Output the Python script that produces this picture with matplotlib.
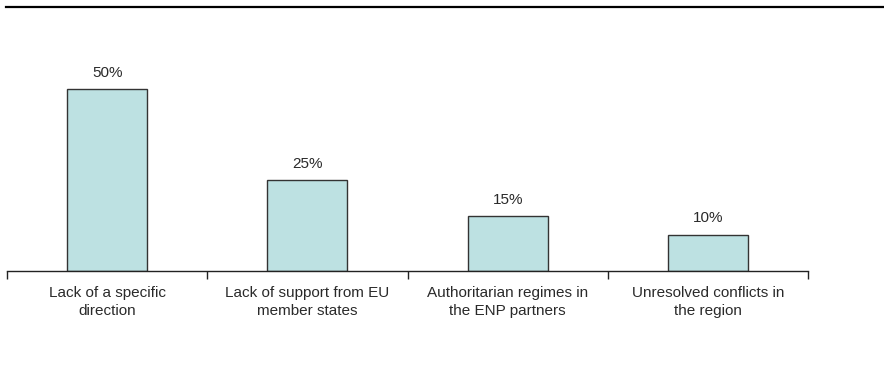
import matplotlib
matplotlib.use("Agg")
import matplotlib.pyplot as plt
from matplotlib.lines import Line2D
import numpy as np

plt.rcParams['font.family'] = ['Liberation Sans', 'DejaVu Sans']

categories = ["Lack of a specific\ndirection",
              "Lack of support from EU\nmember states",
              "Authoritarian regimes in\nthe ENP partners",
              "Unresolved conflicts in\nthe region"]
values = [50, 25, 15, 10]
value_labels = ["50%", "25%", "15%", "10%"]

W, H = 884, 371
fig = plt.figure(figsize=(W / 100, H / 100), dpi=100)

# axes placed in pixel terms: baseline at y=271, x from 7 to 808
left, right = 7, 808
base = 271
px_per_unit = 182 / 50
ymax = 60
ax = fig.add_axes([left / W, (H - base) / H, (right - left) / W, ymax * px_per_unit / H])

x = np.arange(len(values))
ax.bar(x, values, width=0.4, color="#bde1e2", edgecolor="#333333", linewidth=1.0)
for xi, v, lab in zip(x, values, value_labels):
    ax.text(xi, v + 2.6, lab, ha="center", va="bottom", fontsize=11, color="#2a2a2a")

ax.set_xlim(-0.5, len(values) - 0.5)
ax.set_ylim(0, ymax)
for s in ["top", "right", "left"]:
    ax.spines[s].set_visible(False)
ax.spines["bottom"].set_color("#222222")
ax.spines["bottom"].set_linewidth(1.0)
ax.set_yticks([])

ax.set_xticks(np.arange(-0.5, len(values)), minor=False)
ax.set_xticklabels([])
ax.tick_params(axis="x", which="major", length=6, width=1.0, color="#222222", direction="out")
ax.set_xticks(x, minor=True)
ax.set_xticklabels(categories, minor=True, fontsize=11, color="#2a2a2a", linespacing=1.3)
ax.tick_params(axis="x", which="minor", length=0, pad=11)

# rule across the top of the figure
fig.add_artist(Line2D([6 / W, 1.0], [(H - 6.5) / H, (H - 6.5) / H],
                      color="black", linewidth=1.6, transform=fig.transFigure))

fig.savefig("out.png", dpi=100)
